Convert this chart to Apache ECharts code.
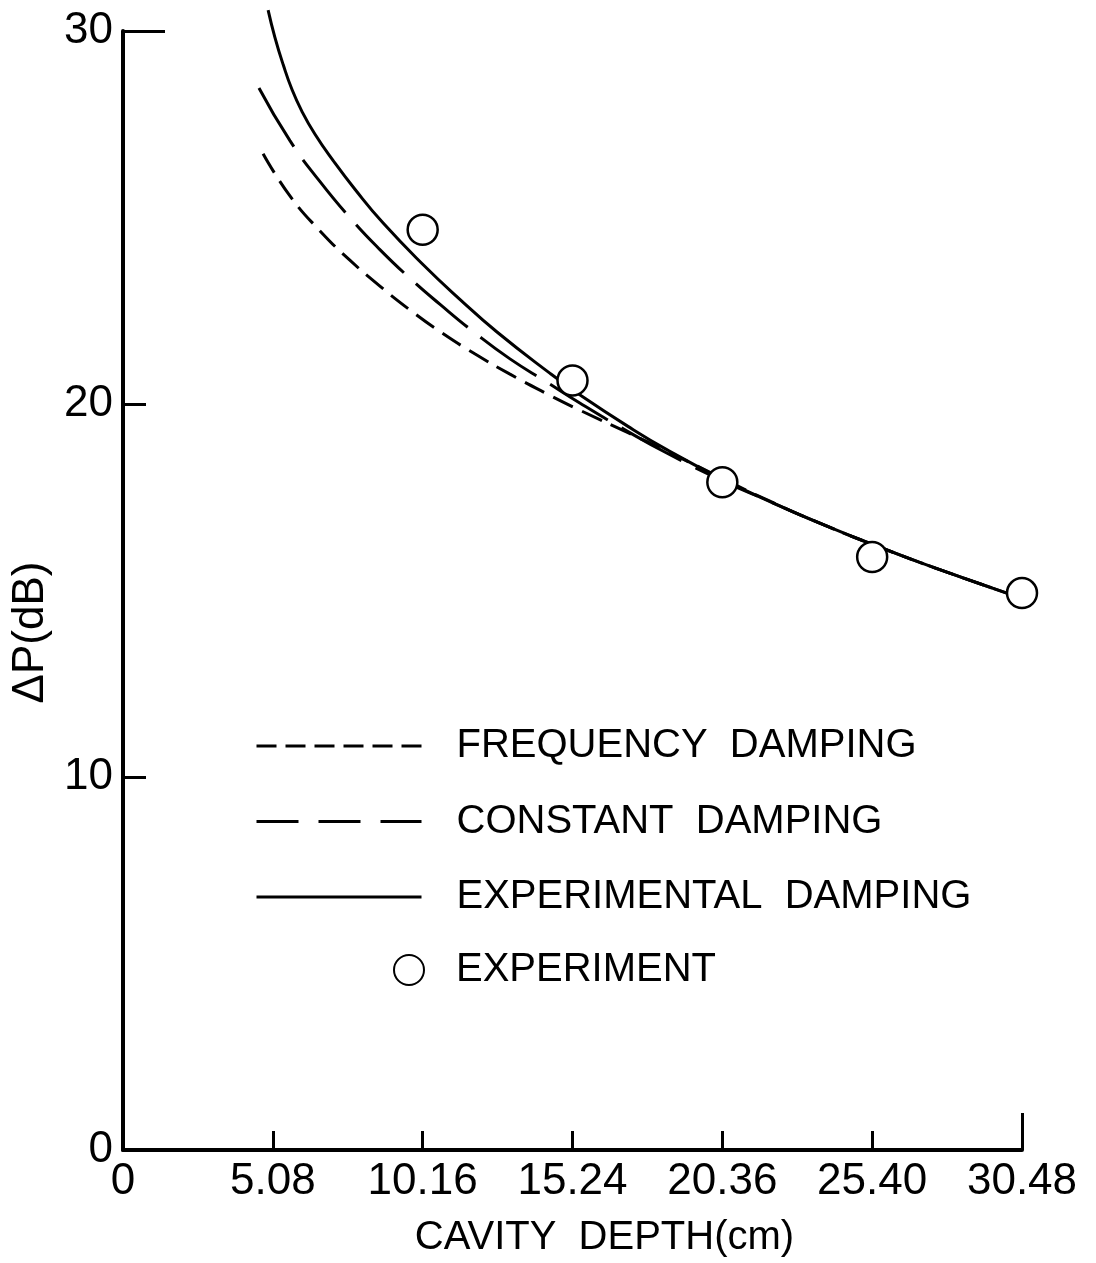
<!DOCTYPE html>
<html>
<head>
<meta charset="utf-8">
<script src="https://cdn.jsdelivr.net/npm/echarts@6/dist/echarts.min.js"></script>
<style>
html, body { margin: 0; padding: 0; background: #fff; }
#chartContainer { width: 1096px; height: 1263px; }
</style>
</head>
<body>
<div id="chartContainer"></div>
<script>
// axis ticks (the 20.32 tick is printed as 20.36 in the original figure)
const xTickValues = [0, 5.08, 10.16, 15.24, 20.32, 25.40, 30.48];
const xTickLabels = ['0', '5.08', '10.16', '15.24', '20.36', '25.40', '30.48'];
const yTickValues = [0, 10, 20, 30];

// frequency damping (short dashes)
const freqX = [4.75, 5.66, 6.68, 7.70, 8.71, 9.73, 10.75, 11.94, 13.12, 14.38, 15.5, 17.12, 18.45, 20.28, 21.97, 23.97, 25.4, 26.99, 28.48, 30.48];
const freqY = [26.71, 25.58, 24.64, 23.85, 23.16, 22.52, 21.94, 21.34, 20.8, 20.27, 19.83, 19.23, 18.73, 18.02, 17.38, 16.69, 16.24, 15.76, 15.34, 14.79];

// constant damping (long dashes)
const constX = [4.61, 5.66, 6.68, 7.70, 8.71, 9.73, 10.75, 11.94, 13.12, 14.38, 15.5, 17.12, 18.45, 20.28, 21.97, 23.97, 25.4, 26.99, 28.48, 30.48];
const constY = [28.47, 27.06, 25.96, 24.99, 24.14, 23.37, 22.67, 21.9, 21.21, 20.58, 20.02, 19.26, 18.68, 17.96, 17.37, 16.69, 16.24, 15.76, 15.34, 14.79];

// experimental damping (solid)
const expDampX = [4.92, 5.15, 5.43, 5.73, 6.07, 6.51, 7.12, 7.87, 8.82, 10.17, 11.43, 12.68, 14.48, 15.5, 17.12, 18.45, 20.28, 21.97, 23.97, 25.4, 26.99, 28.48, 30.48];
const expDampY = [30.56, 29.83, 29.1, 28.43, 27.84, 27.23, 26.53, 25.75, 24.85, 23.74, 22.8, 21.93, 20.82, 20.24, 19.4, 18.77, 18.0, 17.37, 16.69, 16.24, 15.76, 15.34, 14.79];

// measured points
const expX = [10.16, 15.24, 20.32, 25.40, 30.48];
const expY = [24.67, 20.63, 17.9, 15.9, 14.93];

const NUM_FONT = "'Liberation Sans', Arial, sans-serif";
const TEXT_FONT = "'Liberation Sans', Arial, sans-serif";

function zip(xs, ys) {
    return xs.map((x, i) => [x, ys[i]]);
}

function xLabel(value) {
    let best = 0;
    xTickValues.forEach((v, i) => {
        if (Math.abs(v - value) < Math.abs(xTickValues[best] - value)) best = i;
    });
    return xTickLabels[best];
}

const black = '#000';
const tickStyle = { color: black, width: 3 };
// hides the dot ECharts puts in the middle of a line legend icon
const noDot = { color: 'rgba(0,0,0,0)', borderWidth: 0, opacity: 0 };

function lineSeries(name, data, dash) {
    return {
        name: name,
        type: 'line',
        data: data,
        symbol: 'none',
        smooth: 0.5,
        clip: false,
        lineStyle: { color: black, width: 3, type: dash },
        itemStyle: { color: black }
    };
}

const myChart = echarts.init(document.getElementById('chartContainer'));

const option = {
    backgroundColor: '#fff',
    animation: false,
    grid: { left: 123, right: 74, top: 31, bottom: 111 },
    legend: [{
        left: 255,
        top: 721,
        padding: 0,
        orient: 'vertical',
        itemWidth: 165,
        itemHeight: 20,
        itemGap: 25.5,
        selectedMode: false,
        data: [
            { name: 'FREQUENCY  DAMPING', lineStyle: { type: [20, 9], width: 3 }, itemStyle: noDot },
            { name: 'CONSTANT  DAMPING', lineStyle: { type: [42, 20], width: 3 }, itemStyle: noDot },
            { name: 'EXPERIMENTAL  DAMPING', lineStyle: { type: 'solid', width: 3 }, itemStyle: noDot }
        ],
        textStyle: { fontFamily: TEXT_FONT, fontSize: 40, color: black, lineHeight: 50, padding: [0, 0, 0, 30] }
    }, {
        left: 393,
        top: 945,
        padding: 0,
        itemWidth: 30,
        itemHeight: 30,
        selectedMode: false,
        data: ['EXPERIMENT'],
        textStyle: { fontFamily: TEXT_FONT, fontSize: 40, color: black, lineHeight: 50, padding: [0, 0, 0, 27] }
    }],
    xAxis: [{
        type: 'value',
        min: 0,
        max: 30.48,
        name: 'CAVITY  DEPTH(cm)',
        nameLocation: 'middle',
        nameGap: 68,
        nameTextStyle: { fontFamily: TEXT_FONT, fontSize: 40, color: black, padding: [0, 0, 0, 64] },
        axisLine: { show: true, lineStyle: { color: black, width: 4 } },
        axisTick: { show: true, inside: true, length: 19, lineStyle: tickStyle, customValues: xTickValues },
        axisLabel: { customValues: xTickValues, formatter: xLabel, margin: 10, fontFamily: NUM_FONT, fontSize: 44, color: black },
        splitLine: { show: false }
    }, {
        // taller end tick at 30.48
        type: 'value',
        min: 0,
        max: 30.48,
        position: 'bottom',
        axisLine: { show: false },
        axisLabel: { show: false },
        splitLine: { show: false },
        axisTick: { show: true, inside: true, length: 37, lineStyle: tickStyle, customValues: [30.48] }
    }],
    yAxis: [{
        type: 'value',
        min: 0,
        max: 30,
        interval: 10,
        name: 'ΔP(dB)',
        nameLocation: 'middle',
        nameGap: 70,
        nameTextStyle: { fontFamily: NUM_FONT, fontSize: 44, color: black, padding: [0, 84, 0, 0] },
        axisLine: { show: true, lineStyle: { color: black, width: 4 } },
        axisTick: { show: true, inside: true, length: 23, lineStyle: tickStyle, customValues: yTickValues },
        axisLabel: { margin: 10, fontFamily: NUM_FONT, fontSize: 44, color: black, customValues: yTickValues },
        splitLine: { show: false }
    }, {
        // longer tick at the top of the axis
        type: 'value',
        min: 0,
        max: 30,
        position: 'left',
        axisLine: { show: false },
        axisLabel: { show: false },
        splitLine: { show: false },
        axisTick: { show: true, inside: true, length: 42, lineStyle: tickStyle, customValues: [30] }
    }],
    series: [
        lineSeries('FREQUENCY  DAMPING', zip(freqX, freqY), [22, 10]),
        lineSeries('CONSTANT  DAMPING', zip(constX, constY), [68, 16]),
        lineSeries('EXPERIMENTAL  DAMPING', zip(expDampX, expDampY), 'solid'),
        {
            name: 'EXPERIMENT',
            type: 'scatter',
            data: zip(expX, expY),
            symbol: 'circle',
            symbolSize: 30,
            z: 5,
            itemStyle: { color: '#fff', borderColor: black, borderWidth: 2.5, opacity: 1 }
        }
    ]
};

myChart.setOption(option);
</script>
</body>
</html>
